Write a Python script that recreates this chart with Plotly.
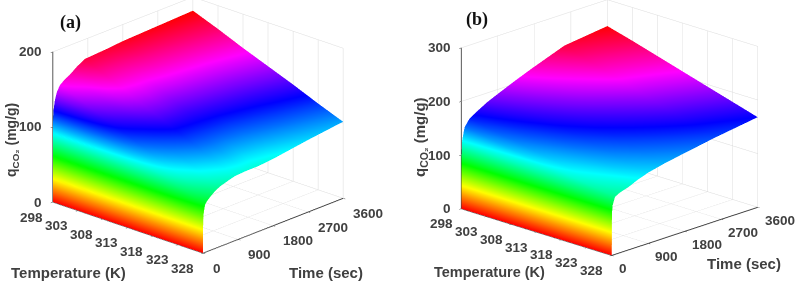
import plotly.graph_objects as go

temps = [298, 303, 308, 313, 318, 323, 328]
time_ticks = [0, 900, 1800, 2700, 3600]
z_ticks_a = [0, 100, 200]
z_ticks_b = [0, 100, 200, 300]
times_a = [0, 5, 20, 50, 100, 180, 300, 440, 620, 820, 1100, 1400, 1800, 2700, 3600]
q_a = [
    [0, 110, 123, 134, 144, 152, 157, 161, 168, 174, 175, 176, 178, 180, 182],
    [0, 99, 112, 122, 131, 139, 143, 147, 154, 159, 160, 161, 163, 166, 169],
    [0, 88, 100, 110, 118, 125, 130, 134, 140, 144, 146, 146, 148, 151, 155],
    [0, 78, 89, 98, 105, 112, 116, 120, 125, 130, 131, 131, 133, 137, 142],
    [0, 67, 77, 87, 93, 98, 103, 107, 111, 115, 116, 117, 118, 123, 129],
    [0, 56, 66, 75, 80, 85, 89, 94, 97, 100, 102, 102, 104, 110, 115],
    [0, 45, 54, 63, 67, 71, 76, 80, 83, 86, 87, 87, 89, 96, 102],
]
times_b = [0, 5, 20, 80, 200, 410, 640, 905, 1300, 1725, 2540, 3600]
q_b = [
    [0, 100, 127, 150, 163, 173, 183, 192, 205, 218, 241, 251],
    [0, 96, 121, 143, 154, 164, 173, 182, 194, 206, 227, 238],
    [0, 92, 115, 135, 146, 155, 163, 172, 183, 194, 213, 224],
    [0, 88, 110, 128, 137, 145, 154, 162, 172, 181, 198, 210],
    [0, 83, 104, 122, 129, 136, 144, 152, 161, 169, 184, 196],
    [0, 79, 98, 114, 120, 127, 135, 142, 150, 157, 170, 182],
    [0, 75, 92, 107, 112, 117, 125, 132, 139, 145, 156, 168],
]
hsv = [[0, "#ff0000"], [1/6, "#ffff00"], [2/6, "#00ff00"], [3/6, "#00ffff"],
       [4/6, "#0000ff"], [5/6, "#ff00ff"], [1, "#ff0000"]]
TEXT = "#404040"
FONT = "Liberation Sans"

def axis(vals, rng):
    return dict(range=rng, tickvals=vals, showticklabels=False, title=dict(text=""),
                showbackground=False, gridcolor="#dcdcdc", gridwidth=1, showline=True,
                linecolor="#404040", linewidth=2, ticks="outside", tickcolor="#404040", ticklen=3,
                zeroline=False, showspikes=False)

def cam(ex, ey, ez, cx, cy, cz):
    return dict(projection=dict(type="orthographic"), up=dict(x=0, y=0, z=1),
                center=dict(x=cx, y=cy, z=cz),
                eye=dict(x=ex*1.5+cx, y=ey*1.5+cy, z=ez*1.5+cz))

def tick_notes(z_ticks, off_t, off_time, off_z):
    tf = dict(family=FONT, size=13.5, color=TEXT, weight="bold")
    notes = []
    for v in temps:
        notes.append(dict(x=v, y=0, z=0, text=str(v), showarrow=False, font=tf,
                          xanchor="center", yanchor="middle", xshift=off_t[0], yshift=off_t[1]))
    for v in time_ticks:
        notes.append(dict(x=328, y=v, z=0, text=str(v), showarrow=False, font=tf,
                          xanchor="left", yanchor="middle", xshift=off_time[0], yshift=off_time[1]))
    for v in z_ticks:
        notes.append(dict(x=298, y=0, z=v, text=str(v), showarrow=False, font=tf,
                          xanchor="right", yanchor="middle", xshift=off_z, yshift=0))
    return notes

fig = go.Figure()
for name, t, q, cmax in [("scene", times_a, q_a, 182), ("scene2", times_b, q_b, 252)]:
    fig.add_surface(x=temps, y=t, z=[list(c) for c in zip(*q)], scene=name, colorscale=hsv, cmin=0, cmax=cmax,
                    showscale=False, lighting=dict(ambient=1, diffuse=0, specular=0, roughness=1, fresnel=0))

fig.update_layout(
    width=796, height=282, margin=dict(l=0, r=0, t=0, b=0), paper_bgcolor="white", showlegend=False,
    scene=dict(domain=dict(x=[0, .5], y=[0, 1]),
               xaxis=axis(temps, [298, 328]), yaxis=axis(time_ticks, [0, 3600]),
               zaxis=axis(z_ticks_a, [0, 200]),
               aspectmode="manual", aspectratio=dict(x=1.457, y=1.457, z=.785*1.457),
               camera=cam(.635, -.681, .365, .005, .005, -.121),
               annotations=tick_notes(z_ticks_a, (-21, -15), (8, -15), -9)),
    scene2=dict(domain=dict(x=[.5, 1], y=[0, 1]),
               xaxis=axis(temps, [298, 328]), yaxis=axis(time_ticks, [0, 3600]),
               zaxis=axis(z_ticks_b, [0, 300]),
               aspectmode="manual", aspectratio=dict(x=1.487, y=1.487, z=.81*1.487),
               camera=cam(.66, -.68, .32, -.063, -.063, -.1),
               annotations=tick_notes(z_ticks_b, (-20, -15), (5, -13), -8)),
)
labels = [dict(text="(a)", x=70, y=22), dict(text="(b)", x=477, y=20)]
for a in labels:
    fig.add_annotation(text=a["text"], xref="paper", yref="paper", x=a["x"]/796, y=1-a["y"]/282, showarrow=False,
                       xanchor="center", yanchor="middle",
                       font=dict(family="Liberation Serif", size=18, color="#111111", weight="bold"))
for text, x, y, ang, size in [("Temperature (K)", 68, 272, 0, 15), ("Time (sec)", 326, 272, 0, 15),
                        ("Temperature (K)", 490, 272, 0, 14.5), ("Time (sec)", 744, 263, 0, 15),
                        ("q<sub>CO₂</sub> (mg/g)", 12, 140, -90, 14), ("q<sub>CO₂</sub> (mg/g)", 420, 137, -90, 15)]:
    fig.add_annotation(text=text, x=x/796, y=1-y/282, textangle=ang, xref="paper", yref="paper", showarrow=False,
                       xanchor="center", yanchor="middle",
                       font=dict(family=FONT, size=size, color=TEXT, weight="bold"))
fig.write_html("out.html", config=dict(displayModeBar=False), post_script="document.body.style.margin='0';")
